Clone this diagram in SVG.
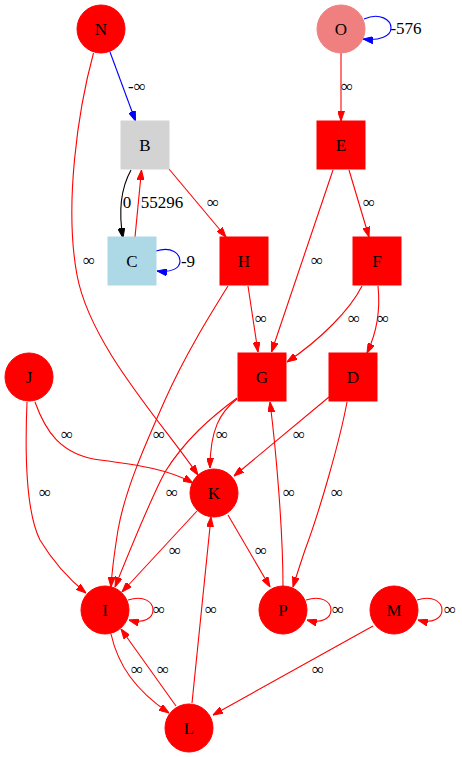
<svg xmlns="http://www.w3.org/2000/svg" width="462" height="757" viewBox="0 0 462 757">
<style>
text{font-family:"Liberation Serif","Times New Roman",serif;font-size:17px;fill:#000;text-anchor:middle}
.e{fill:none;stroke-width:1.1}
.r{stroke:#ff0000;marker-end:url(#ar)}
.b{stroke:#0000ff;marker-end:url(#ab)}
.k{stroke:#000000;marker-end:url(#ak)}
.red{fill:#ff0000;stroke:#ff0000}
.pink{fill:#f08080;stroke:#f08080}
.gray{fill:#d3d3d3;stroke:#d3d3d3}
.lb{fill:#add8e6;stroke:#add8e6}
</style>
<defs>
<marker id="ar" markerUnits="userSpaceOnUse" markerWidth="10" markerHeight="7" refX="10" refY="3.5" orient="auto"><path d="M0,0 L10,3.5 L0,7 z" fill="#ff0000" stroke="#ff0000"/></marker>
<marker id="ab" markerUnits="userSpaceOnUse" markerWidth="10" markerHeight="7" refX="10" refY="3.5" orient="auto"><path d="M0,0 L10,3.5 L0,7 z" fill="#0000ff" stroke="#0000ff"/></marker>
<marker id="ak" markerUnits="userSpaceOnUse" markerWidth="10" markerHeight="7" refX="10" refY="3.5" orient="auto"><path d="M0,0 L10,3.5 L0,7 z" fill="#000000" stroke="#000000"/></marker>
</defs>
<g id="edges">
<path class="e b" d="M110,52 L135.5,121"/><text x="137" y="92">-∞</text>
<path class="e r" d="M93.5,53 C78,110 64,205 77,275 C90,345 160,420 198,475"/><text x="89" y="266">∞</text>
<path class="e b" d="M364,19 C380,12 391,20 391,28 C391,36 380,41 363,39"/><text x="406" y="34">-576</text>
<path class="e r" d="M341,53 L341,121"/><text x="347" y="92">∞</text>
<path class="e k" d="M131,170 C120,190 119,215 123,238"/><text x="127" y="208">0</text>
<path class="e r" d="M135,237 L141.5,170"/><text x="162" y="208">55296</text>
<path class="e b" d="M156,251 C172,246 180,254 180,261 C180,268 172,273 157,271"/><text x="188" y="267">-9</text>
<path class="e r" d="M169,169 L226,237"/><text x="213" y="208">∞</text>
<path class="e r" d="M333,170 L271.5,352"/><text x="317" y="266">∞</text>
<path class="e r" d="M349,170 L369,237"/><text x="369" y="208">∞</text>
<path class="e r" d="M248,286 L258,352"/><text x="261" y="324">∞</text>
<path class="e r" d="M228,286 C210,315 185,355 165,400 C145,445 125,490 118,530 C114,555 112,570 111,587"/><text x="159" y="440">∞</text>
<path class="e r" d="M237,398 C210,418 185,440 165,472 C150,500 132,545 115,587"/><text x="172" y="498">∞</text>
<path class="e r" d="M237,399 C220,412 210,430 210,468"/><text x="222" y="440">∞</text>
<path class="e r" d="M329,397 L234,476"/><text x="299" y="440">∞</text>
<path class="e r" d="M347,402 C340,440 320,510 305,550 C300,565 296,577 293,587"/><text x="337" y="498">∞</text>
<path class="e r" d="M362,286 C350,310 320,340 287,362"/><text x="354" y="324">∞</text>
<path class="e r" d="M378,286 C380,305 378,330 367,353"/><text x="383" y="324">∞</text>
<path class="e r" d="M35,402 C45,430 60,455 100,460 C140,465 170,470 193,483"/><text x="67" y="440">∞</text>
<path class="e r" d="M27,402 C25,450 25,510 40,540 C55,565 70,580 86,593"/><text x="45" y="498">∞</text>
<path class="e r" d="M197,511 L122,592"/><text x="175" y="556">∞</text>
<path class="e r" d="M228,515 L270,587"/><text x="261" y="556">∞</text>
<path class="e r" d="M283,587 C283,530 276,450 270,402"/><text x="289" y="498">∞</text>
<path class="e r" d="M192,703 L211,517"/><text x="211" y="615">∞</text>
<path class="e r" d="M111,634 C118,665 135,690 169,713"/><text x="137" y="675">∞</text>
<path class="e r" d="M176,706 L121,629"/><text x="163" y="675">∞</text>
<path class="e r" d="M373,626 L213,715"/><text x="318" y="675">∞</text>
<path class="e r" d="M128,600 C144,595 153,602 153,610 C153,618 144,624 129,620"/><text x="159" y="615">∞</text>
<path class="e r" d="M306,600 C322,595 331,602 331,610 C331,618 322,624 307,620"/><text x="338" y="615">∞</text>
<path class="e r" d="M417,600 C433,595 442,602 442,610 C442,618 433,624 418,620"/><text x="450" y="615">∞</text>
</g>
<g id="N"><circle class="red" cx="101" cy="29" r="24"/><text x="101" y="35">N</text></g>
<g id="O"><circle class="pink" cx="341" cy="29" r="24"/><text x="341" y="35">O</text></g>
<g id="B"><rect class="gray" x="121" y="121" width="48" height="48"/><text x="145" y="151">B</text></g>
<g id="E"><rect class="red" x="317" y="121" width="48" height="48"/><text x="341" y="151">E</text></g>
<g id="C"><rect class="lb" x="108" y="237" width="48" height="48"/><text x="132" y="267">C</text></g>
<g id="H"><rect class="red" x="220" y="237" width="48" height="48"/><text x="244" y="267">H</text></g>
<g id="F"><rect class="red" x="353" y="237" width="48" height="48"/><text x="377" y="267">F</text></g>
<g id="G"><rect class="red" x="238" y="353" width="48" height="48"/><text x="262" y="383">G</text></g>
<g id="D"><rect class="red" x="329" y="353" width="48" height="48"/><text x="353" y="383">D</text></g>
<g id="J"><circle class="red" cx="29" cy="377" r="24"/><text x="29" y="383">J</text></g>
<g id="K"><circle class="red" cx="214" cy="493" r="24"/><text x="214" y="499">K</text></g>
<g id="I"><circle class="red" cx="105" cy="610" r="24"/><text x="105" y="616">I</text></g>
<g id="P"><circle class="red" cx="283" cy="610" r="24"/><text x="283" y="616">P</text></g>
<g id="M"><circle class="red" cx="394" cy="610" r="24"/><text x="394" y="616">M</text></g>
<g id="L"><circle class="red" cx="189" cy="728" r="24"/><text x="189" y="734">L</text></g>
</svg>
